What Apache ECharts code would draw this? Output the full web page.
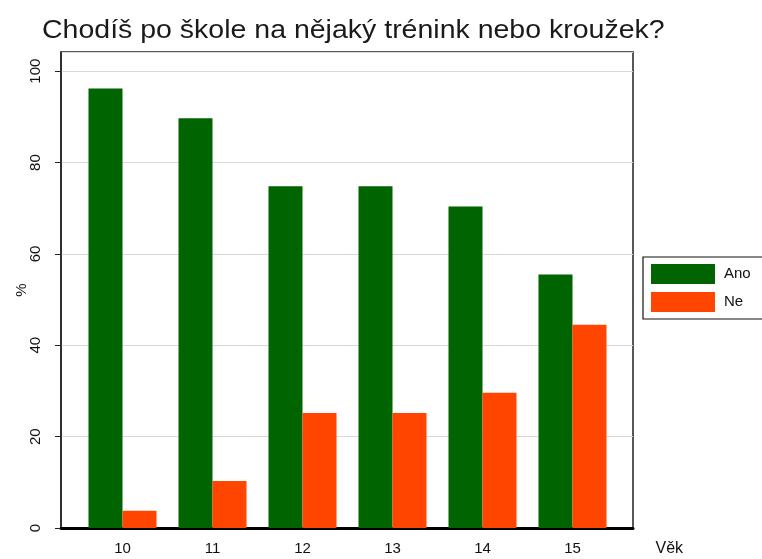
<!DOCTYPE html>
<html><head><meta charset="utf-8">
<script src="https://cdn.jsdelivr.net/npm/echarts@6/dist/echarts.min.js"></script>
<style>html,body{margin:0;padding:0;background:#fff}#c{width:762px;height:559px}</style>
</head><body><div id="c"></div>
<script>
var titleText = 'Chodíš po škole na nějaký trénink nebo kroužek?';
var categories = ['10', '11', '12', '13', '14', '15'];
var seriesNames = ['Ano', 'Ne'];
var ano = [96.2, 89.7, 74.8, 74.8, 70.4, 55.5];
var ne = [3.8, 10.3, 25.2, 25.2, 29.6, 44.5];
var yTicks = [0, 20, 40, 60, 80, 100];

var FONT = '"Liberation Sans", Arial, sans-serif';
var chart = echarts.init(document.getElementById('c'), null, {renderer: 'canvas'});
var yMax = 104.2;
chart.setOption({
  animation: false,
  backgroundColor: '#fff',
  graphic: [{
    type: 'text', x: 42, y: 31, scaleX: 1.14, originX: 0, originY: 0,
    style: {text: titleText, font: '25px "Liberation Sans", Arial, sans-serif', fill: '#1a1a1a',
            textVerticalAlign: 'middle', verticalAlign: 'middle'}
  }],
  legend: {
    data: seriesNames, orient: 'vertical', left: 643, top: 257,
    itemWidth: 64, itemHeight: 20, itemGap: 8,
    borderColor: '#111', borderWidth: 1.2, padding: [7, 40, 7, 8],
    textStyle: {fontFamily: FONT, fontSize: 15, color: '#111', padding: [0, 0, 0, 4]},
    icon: 'rect'
  },
  grid: [
    {left: 61, right: 129, top: 52, bottom: 31, outerBoundsMode: 'none', containLabel: false,
     show: true, borderColor: '#222', borderWidth: 1.5, backgroundColor: '#fff'},
    {left: 77.5, right: 144.5, top: 52, bottom: 31, outerBoundsMode: 'none', containLabel: false}
  ],
  xAxis: [
    {type: 'value', gridIndex: 0, min: 0, max: 1, show: true,
     axisLine: {show: true, onZero: false, lineStyle: {color: '#000', width: 3}},
     axisTick: {show: false}, axisLabel: {show: false}, splitLine: {show: false}},
    {type: 'category', gridIndex: 1, data: categories,
     axisLine: {show: false}, axisTick: {show: false},
     axisLabel: {fontFamily: FONT, fontSize: 15, color: '#111', margin: 13},
     name: 'Věk', nameLocation: 'end', nameGap: 38,
     nameTextStyle: {fontFamily: FONT, fontSize: 16, color: '#111', verticalAlign: 'top', padding: [13, 0, 0, 0]}}
  ],
  yAxis: [
    {type: 'value', gridIndex: 0, min: 0, max: yMax, interval: 20,
     axisLine: {show: true, lineStyle: {color: '#222', width: 1.5}},
     axisTick: {show: true, length: 6, lineStyle: {color: '#222'}},
     axisLabel: {rotate: 90, margin: 18, fontFamily: FONT, fontSize: 15, color: '#111', showMaxLabel: false,
       formatter: function (v) { return yTicks.indexOf(v) >= 0 ? String(v) : ''; }},
     splitLine: {show: true, lineStyle: {color: '#d8d8d8', width: 1}},
     name: '%', nameLocation: 'middle', nameGap: 32, nameRotate: 90, nameMoveOverlap: false,
     nameTextStyle: {fontFamily: FONT, fontSize: 15, color: '#111'}},
    {type: 'value', gridIndex: 1, min: 0, max: yMax, show: false, splitLine: {show: false}}
  ],
  series: [
    {name: seriesNames[0], type: 'bar', xAxisIndex: 1, yAxisIndex: 1, data: ano,
     barWidth: 34, barGap: '0%', itemStyle: {color: '#006400'}},
    {name: seriesNames[1], type: 'bar', xAxisIndex: 1, yAxisIndex: 1, data: ne,
     barWidth: 34, barGap: '0%', itemStyle: {color: '#ff4500'}}
  ]
});
</script></body></html>
